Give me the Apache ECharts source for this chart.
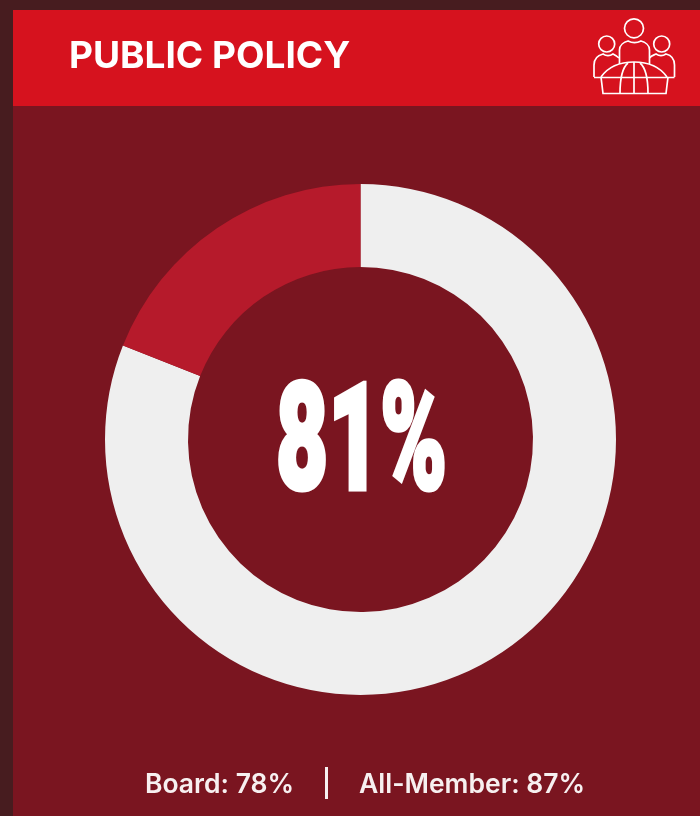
<!DOCTYPE html>
<html>
<head>
<meta charset="utf-8">
<style>html,body{margin:0;padding:0;background:#471c1f}#chart{width:700px;height:816px}</style>
<script src="https://cdn.jsdelivr.net/npm/echarts@6/dist/echarts.min.js"></script>
</head>
<body>
<div id="chart"></div>
<script>
// Survey figures for the policy panel
const title = 'PUBLIC POLICY';
const sliceNames = ['Agree', 'Remainder'];
const sliceValues = [81, 19];
const breakdownNames = ['Board', 'All-Member'];
const breakdownValues = [78, 87];

const WHITE = '#ffffff';
const UI_FONT = 'Inter';
const chart = echarts.init(document.getElementById('chart'), null, { renderer: 'canvas' });

// Line-art icon: three people standing behind a globe
const stroke = { stroke: WHITE, fill: 'none', lineWidth: 1.7 };
const iconPaths = [
  'M594 77 L594 65 C594 58 599 55 603 54 C606 56 610 56 613 54 C615 55 617 56 619 58',
  'M674.5 77 L674.5 65 C674.5 58 670 55 666 54 C663 56 659 56 656 54 C654 55 651 56 649.5 58',
  'M619.5 64 L619.5 50 C619.5 45 624 42 628 41 C632 43 637 43 641 41 C645 42 649.5 45 649.5 50 L649.5 64',
  'M594 77.5 L674.5 77.5',
  'M601 77 C608 67 620 62 634 62 C648 62 660 67 667 77',
  'M601 77 L603 93.5 L666 93.5 L668 77',
  'M634 62 L634 93.5',
  'M628 63 C622 68 620 78 620 93.5',
  'M640 63 C646 68 648 78 648 93.5'
];
iconPaths.forEach((d, i) => echarts.graphic.registerShape('iconStroke' + i, echarts.graphic.extendPath(d, {})));
const iconCircles = [[634, 28.3, 9.5], [606.7, 44, 8], [661.7, 44, 8]];

chart.setOption({
  animation: false,
  backgroundColor: '#471c1f',
  graphic: [
    { type: 'rect', z: 0, shape: { x: 13, y: 10, width: 687, height: 806 }, style: { fill: '#7a1520' } },
    { type: 'rect', z: 1, shape: { x: 13, y: 10, width: 687, height: 96 }, style: { fill: '#d6121e' } },
    { type: 'text', z: 5, x: 69, y: 56.5, style: { text: title, fill: WHITE, font: '700 37px ' + UI_FONT, textAlign: 'left', textVerticalAlign: 'middle' } },
    ...iconPaths.map((d, i) => ({ type: 'iconStroke' + i, z: 5, style: stroke })),
    ...iconCircles.map(c => ({ type: 'circle', z: 5, shape: { cx: c[0], cy: c[1], r: c[2] }, style: stroke })),
    // Headline share, condensed to a poster-style numeral
    { type: 'text', z: 5, x: 361.5, y: 452, scaleX: 0.607, scaleY: 1,
      style: { text: sliceValues[0] + '%', fill: WHITE, stroke: WHITE, lineWidth: 5,
        font: '900 148px Roboto', textAlign: 'center', textVerticalAlign: 'middle' } },
    { type: 'text', z: 5, x: 145, y: 785, style: { text: breakdownNames[0] + ': ' + breakdownValues[0] + '%', fill: '#f7f0f0', font: '600 26.5px ' + UI_FONT, textAlign: 'left', textVerticalAlign: 'middle' } },
    { type: 'rect', z: 5, shape: { x: 325, y: 767, width: 3, height: 32 }, style: { fill: '#f7f0f0' } },
    { type: 'text', z: 5, x: 359, y: 785, style: { text: breakdownNames[1] + ': ' + breakdownValues[1] + '%', fill: '#f7f0f0', font: '600 26.5px ' + UI_FONT, textAlign: 'left', textVerticalAlign: 'middle' } }
  ],
  series: [{
    type: 'pie',
    silent: true,
    center: [360.5, 439.5],
    radius: [172.5, 255.5],
    startAngle: 90,
    clockwise: true,
    label: { show: false },
    labelLine: { show: false },
    data: sliceNames.map((name, i) => ({
      name,
      value: sliceValues[i],
      itemStyle: { color: i === 0 ? '#efefef' : '#b61a2b' }
    }))
  }]
});
</script>
</body>
</html>
